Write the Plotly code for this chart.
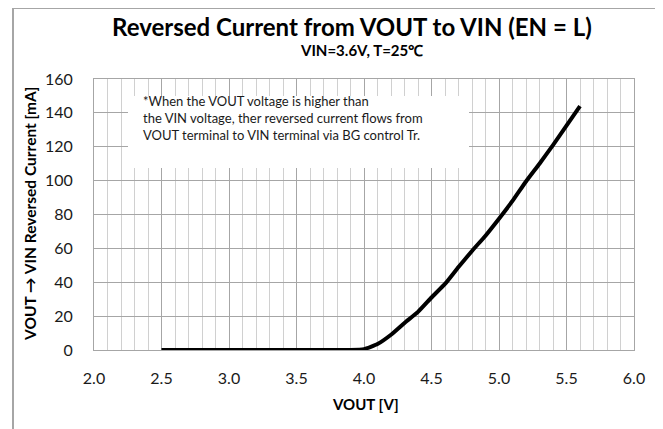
import plotly.graph_objects as go

# VOUT sweep [V] and reversed current [mA]
vout = [2.5, 2.6, 2.7, 2.8, 2.9, 3.0, 3.1, 3.2, 3.3, 3.4, 3.5, 3.6, 3.7, 3.8, 3.9,
        4.0, 4.1, 4.2, 4.3, 4.4, 4.5, 4.6, 4.7, 4.8, 4.9, 5.0, 5.1, 5.2, 5.3, 5.4, 5.5, 5.6]
current = [0, 0, 0, 0, 0, 0, 0, 0, 0, 0, 0, 0, 0, 0, 0,
           0.5, 3.5, 9, 16, 22.5, 31, 39, 49, 58.5, 67.5, 77.5, 88, 99.5, 110, 121, 132.5, 144]

x_ticks = [2.0, 2.5, 3.0, 3.5, 4.0, 4.5, 5.0, 5.5, 6.0]
y_ticks = [0, 20, 40, 60, 80, 100, 120, 140, 160]

note_lines = [
    "*When the VOUT voltage is higher than",
    "the VIN voltage, ther reversed current flows from",
    "VOUT terminal to VIN terminal via BG control Tr.",
]

FONT = "Lato"

# helpers: pixel position (in the reference picture) -> paper coords
def px(x):
    return (x - 94) / 540

def py(y):
    return (350 - y) / 271

fig = go.Figure()
fig.add_trace(go.Scatter(
    x=vout, y=current, mode="lines",
    line=dict(color="black", width=4, shape="spline", smoothing=0.4),
    showlegend=False,
))

fig.update_layout(
    width=655, height=421,
    margin=dict(l=86, r=29, t=71, b=79),
    paper_bgcolor="white", plot_bgcolor="white",
    font=dict(family=FONT, size=16, color="#1a1a1a"),
    xaxis=dict(
        range=[2.0, 6.0], tickvals=x_ticks, ticktext=[f"{v:.1f}" for v in x_ticks],
        showgrid=True, gridcolor="#a6a6a6", gridwidth=1,
        minor=dict(dtick=0.1, showgrid=True, gridcolor="#d0d0d0", gridwidth=1),
        showline=True, linecolor="#a6a6a6", mirror=True, zeroline=False,
        ticks="", ticklabelstandoff=14,
    ),
    yaxis=dict(
        range=[0, 160], tickvals=y_ticks,
        showgrid=True, gridcolor="#a6a6a6", gridwidth=1,
        showline=True, linecolor="#a6a6a6", mirror=True, zeroline=False,
        ticks="", ticklabelstandoff=17,
    ),
)

# outer chart frame
fig.add_shape(type="rect", xref="paper", yref="paper",
              x0=px(13), x1=px(660), y0=py(445), y1=py(8),
              line=dict(color="#a6a6a6", width=2), fillcolor="rgba(0,0,0,0)")

# white box behind the note
fig.add_shape(type="rect", xref="paper", yref="paper",
              x0=px(128), x1=px(469), y0=py(168), y1=py(96),
              line=dict(width=0), fillcolor="white", layer="above")

fig.add_annotation(
    xref="paper", yref="paper", x=px(142), y=py(118),
    xanchor="left", yanchor="middle", align="left", showarrow=False,
    text="<br>".join(note_lines), borderpad=0,
    font=dict(family=FONT, size=13, color="#1a1a1a"),
)

fig.add_annotation(
    xref="paper", yref="paper", x=px(352), y=py(27),
    xanchor="center", yanchor="middle", showarrow=False,
    text="<b>Reversed Current from VOUT to VIN (EN = L)</b>",
    font=dict(family=FONT, size=24, color="black"),
)
fig.add_annotation(
    xref="paper", yref="paper", x=px(361), y=py(50),
    xanchor="center", yanchor="middle", showarrow=False,
    text="<b>VIN=3.6V, T=25℃</b>",
    font=dict(family=FONT, size=15, color="black"),
)
fig.add_annotation(
    xref="paper", yref="paper", x=px(365), y=py(404),
    xanchor="center", yanchor="middle", showarrow=False,
    text="<b>VOUT [V]</b>",
    font=dict(family=FONT, size=15, color="black"),
)
fig.add_annotation(
    xref="paper", yref="paper", x=px(30), y=py(214),
    xanchor="center", yanchor="middle", showarrow=False, textangle=-90,
    text="<b>VOUT → VIN Reversed Current [mA]</b>",
    font=dict(family=FONT, size=15.5, color="black"),
)

fig.write_html("out.html")
